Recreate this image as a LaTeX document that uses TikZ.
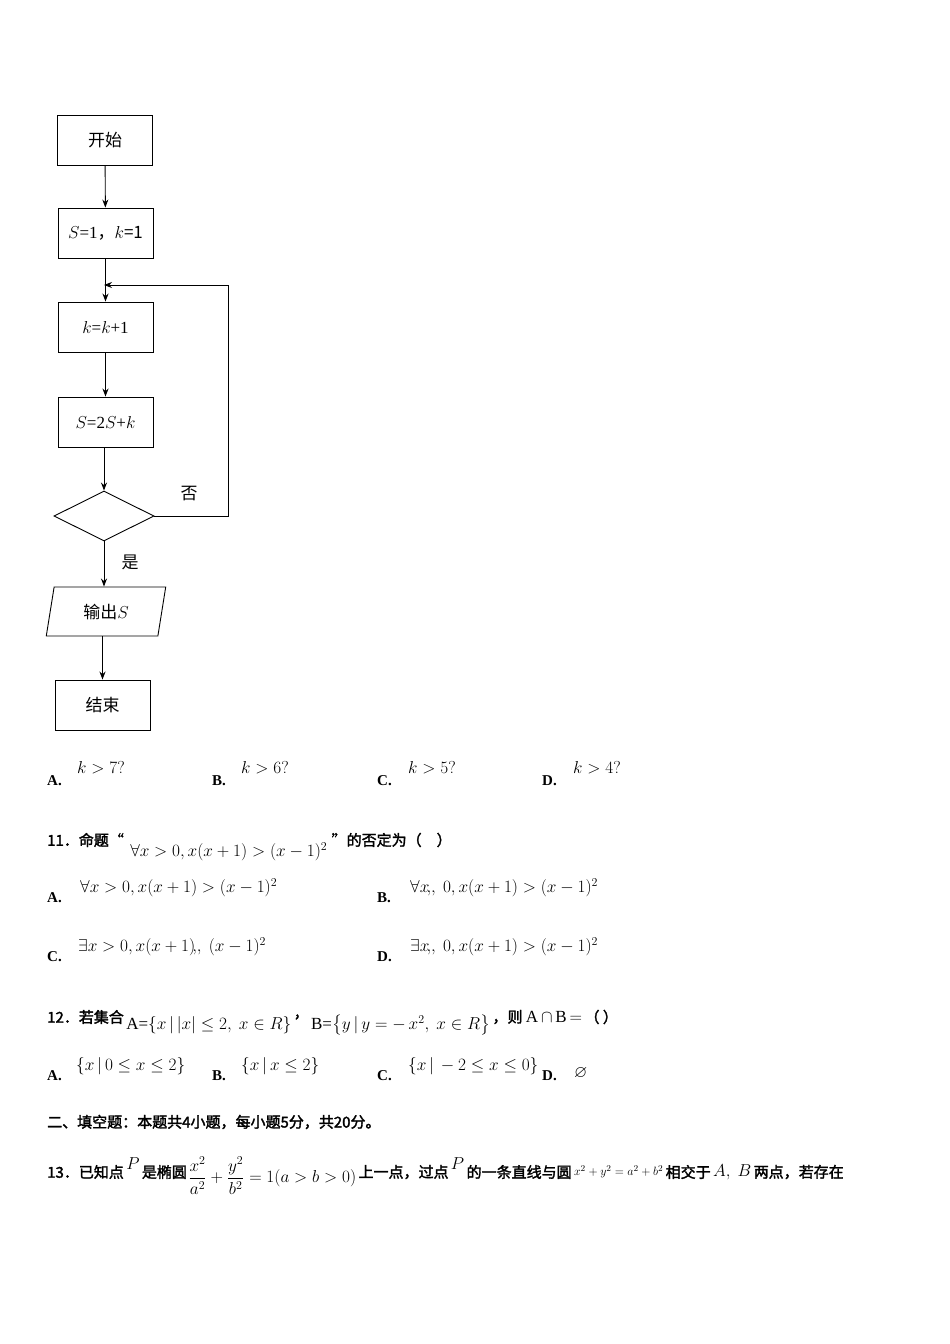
\documentclass[tikz,border=0pt]{standalone}
\usepackage{amsmath}
\usepackage{amssymb}
\usepackage{fontspec}
\setmainfont{Liberation Serif}
\newfontfamily\cjk{Noto Sans CJK SC}
\newfontfamily\cjkb[FakeBold=2]{Noto Sans CJK SC}
\usetikzlibrary{shapes.geometric,arrows.meta}
\tikzset{
  box/.style={draw,line width=0.9pt,minimum width=95pt,minimum height=50pt,font=\fontsize{17}{20}\selectfont},
  flow/.style={draw,line width=0.9pt,-{Stealth[length=8pt,width=6pt]}},
  txt/.style={anchor=west,inner sep=0pt,font=\fontsize{15}{18}\selectfont},
  opt/.style={anchor=west,inner sep=0pt,font=\bfseries\fontsize{15}{18}\selectfont},
  fml/.style={anchor=west,inner sep=0pt,font=\fontsize{17}{20}\selectfont}
}
\begin{document}
\begin{tikzpicture}[x=1pt,y=-1pt]
\useasboundingbox (0,0) rectangle (950,1344);
% flowchart
\node[box] (start) at (105,140) {\cjk 开始};
\node[box] (init) at (105.5,233) {$S$=1\cjk，$k$=1};
\node[box] (inc) at (105.5,327) {$k$=$k$+1};
\node[box] (upd) at (105.5,422) {$S$=2$S$+$k$};
\node[draw,line width=0.9pt,diamond,aspect=2,minimum width=100pt,minimum height=50pt,inner sep=0pt] (cond) at (104,516) {};
\node[draw,line width=0.9pt,trapezium,trapezium left angle=80,trapezium right angle=100,trapezium stretches=true,minimum width=120pt,minimum height=49pt,font=\fontsize{17}{20}\selectfont] (out) at (106,611.5) {\cjk 输出$S$};
\node[box] (stop) at (102.5,705) {\cjk 结束};
\coordinate (back) at (104,285);
\coordinate (corner1) at (228,516);
\coordinate (corner2) at (228,285);
\draw[flow] (start) -- (init);
\draw[flow] (init) -- (inc);
\draw[flow] (inc) -- (upd);
\draw[flow] (upd.south -| cond) -- (cond.north);
\draw[flow] (cond) -- (out.north -| cond);
\draw[flow] (out.south -| stop) -- (stop);
\draw[flow] (cond.east) -- (corner1) -- (corner2) -- (back);
\node[font=\cjk\fontsize{17}{20}\selectfont] (no) at (189,494) {否};
\node[font=\cjk\fontsize{17}{20}\selectfont] (yes) at (130,562) {是};
% choices for 10
\node[opt] (a10) at (47,781) {A.};
\node[fml] (fa10) at (77,768) {$k>7?$};
\node[opt] (b10) at (212,781) {B.};
\node[fml] (fb10) at (241,768) {$k>6?$};
\node[opt] (c10) at (377,781) {C.};
\node[fml] (fc10) at (408,768) {$k>5?$};
\node[opt] (d10) at (542,781) {D.};
\node[fml] (fd10) at (573,768) {$k>4?$};
% question 11
\node[txt] (q11) at (47,840) {\cjkb 11．命题“};
\node[fml] (f11) at ([xshift=6pt,yshift=-12pt]q11.east) {$\forall x>0, x(x+1)>(x-1)^2$};
\node[txt] (q11b) at ([xshift=4pt,yshift=12pt]f11.east) {\cjkb ”的否定为（\quad）};
\node[opt] (a11) at (47,898) {A.};
\node[fml] (fa11) at (80,888) {$\forall x>0, x(x+1)>(x-1)^2$};
\node[opt] (b11) at (377,898) {B.};
\node[fml] (fb11) at (410,888) {$\forall x\!,\!, \ 0, x(x+1)>(x-1)^2$};
\node[opt] (c11) at (47,957) {C.};
\node[fml] (fc11) at (78,947) {$\exists x>0, x(x+1)\!,\!,\ (x-1)^2$};
\node[opt] (d11) at (377,957) {D.};
\node[fml] (fd11) at (410,947) {$\exists x\!,\!, \ 0, x(x+1)>(x-1)^2$};
% question 12
\node[txt] (q12) at (47,1017) {\cjkb 12．若集合};
\node[fml] (f12a) at ([xshift=2pt,yshift=-8pt]q12.east) {A=$\left\{x\,|\,|x|\le 2,\ x\in R\right\}$};
\node[txt] (q12b) at ([xshift=2pt,yshift=8pt]f12a.east) {\cjkb ，};
\node[fml] (f12b) at ([xshift=2pt,yshift=-8pt]q12b.east) {B=$\left\{y\,|\,y=-\,x^2,\ x\in R\right\}$};
\node[txt] (q12c) at ([xshift=2pt,yshift=8pt]f12b.east) {\cjkb ，则};
\node[fml] (f12c) at ([xshift=3pt]q12c.east) {A$\,\cap\,$B$\,=$};
\node[txt] (q12d) at ([xshift=2pt]f12c.east) {\cjkb（\ ）};
\node[opt] (a12) at (47,1076) {A.};
\node[fml] (fa12) at (76,1066) {$\left\{x\,|\,0\le x\le 2\right\}$};
\node[opt] (b12) at (212,1076) {B.};
\node[fml] (fb12) at (241,1066) {$\left\{x\,|\,x\le 2\right\}$};
\node[opt] (c12) at (377,1076) {C.};
\node[fml] (fc12) at (408,1066) {$\left\{x\,|\,-2\le x\le 0\right\}$};
\node[opt] (d12) at (542,1076) {D.};
\node[fml] (fd12) at (574,1073) {$\varnothing$};
% section
\node[txt] (sec) at (47,1122) {\cjkb 二、填空题：本题共4小题，每小题5分，共20分。};
% question 13
\node[txt] (q13) at (47,1172) {\cjkb 13．已知点};
\node[fml] (p1) at ([xshift=2pt,yshift=8pt]q13.east) {$P$};
\node[txt] (q13b) at ([xshift=2pt,yshift=-8pt]p1.east) {\cjkb 是椭圆};
\node[fml] (ell) at ([xshift=1pt,yshift=-4pt]q13b.east) {$\dfrac{x^2}{a^2}+\dfrac{y^2}{b^2}=1(a>b>0)$};
\node[txt] (q13c) at ([xshift=2pt,yshift=4pt]ell.east) {\cjkb 上一点，过点};
\node[fml] (p2) at ([xshift=2pt,yshift=8pt]q13c.east) {$P$};
\node[txt] (q13d) at ([xshift=2pt,yshift=-8pt]p2.east) {\cjkb 的一条直线与圆};
\node[fml,font=\fontsize{13}{15}\selectfont] (circ) at ([xshift=2pt]q13d.east) {$x^2+y^2=a^2+b^2$};
\node[txt] (q13e) at ([xshift=2pt]circ.east) {\cjkb 相交于};
\node[fml] (ab) at ([xshift=2pt]q13e.east) {$A,\ B$};
\node[txt] (q13f) at ([xshift=2pt]ab.east) {\cjkb 两点，若存在};
\end{tikzpicture}
\end{document}
